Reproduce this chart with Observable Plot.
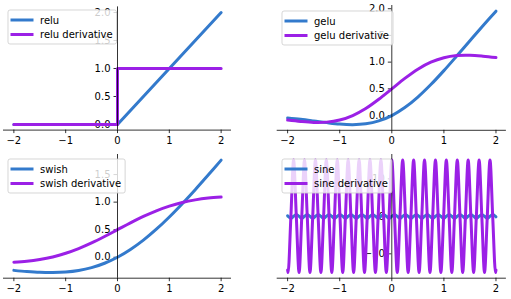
<!DOCTYPE html>
<html><head><meta charset="utf-8">
<script src="https://cdn.jsdelivr.net/npm/d3@7"></script>
<script src="https://cdn.jsdelivr.net/npm/@observablehq/plot@0.6"></script>
<style>
html,body{margin:0;padding:0;background:#fff;}
#root{position:relative;width:511px;height:299px;overflow:hidden;background:#fff;}
#root svg{position:absolute;}
</style></head><body><div id="root"></div>
<script>
const xTicks = [-2, -1, 0, 1, 2];
const reluX = [-2, 0, 2];
const reluY = [0, 0, 2];
const reluDX = [-2, 0, 0, 2];
const reluDY = [0, 0, 1, 1];
const smoothX = [-2, -1.75, -1.5, -1.25, -1, -0.75, -0.5, -0.25, 0, 0.25, 0.5, 0.75, 1, 1.25, 1.5, 1.75, 2];
const geluY = [-0.046, -0.070, -0.100, -0.132, -0.159, -0.170, -0.154, -0.100, 0, 0.150, 0.346, 0.580, 0.841, 1.118, 1.400, 1.680, 1.954];
const geluDY = [-0.085, -0.111, -0.128, -0.123, -0.083, 0.001, 0.132, 0.305, 0.5, 0.695, 0.868, 0.999, 1.083, 1.123, 1.128, 1.111, 1.085];
const swishY = [-0.238, -0.259, -0.274, -0.278, -0.269, -0.241, -0.189, -0.109, 0, 0.141, 0.311, 0.509, 0.731, 0.972, 1.226, 1.491, 1.762];
const swishDY = [-0.091, -0.073, -0.041, 0.006, 0.072, 0.157, 0.260, 0.376, 0.5, 0.624, 0.740, 0.843, 0.928, 0.994, 1.041, 1.073, 1.091];
const sineX = [-2, -1.990, -1.937, -1.885, -1.833, -1.780, -1.728, -1.676, -1.623, -1.571, -1.518, -1.466, -1.414, -1.361, -1.309, -1.257, -1.204, -1.152, -1.100, -1.047, -0.995, -0.942, -0.890, -0.838, -0.785, -0.733, -0.681, -0.628, -0.576, -0.524, -0.471, -0.419, -0.367, -0.314, -0.262, -0.209, -0.157, -0.105, -0.052, 0, 0.052, 0.105, 0.157, 0.209, 0.262, 0.314, 0.367, 0.419, 0.471, 0.524, 0.576, 0.628, 0.681, 0.733, 0.785, 0.838, 0.890, 0.942, 0.995, 1.047, 1.100, 1.152, 1.204, 1.257, 1.309, 1.361, 1.414, 1.466, 1.518, 1.571, 1.623, 1.676, 1.728, 1.780, 1.833, 1.885, 1.937, 1.990, 2];
const sineY = [0.15,
  0, -0.5, 0, 0.5, 0, -0.5, 0, 0.5, 0, -0.5, 0, 0.5, 0, -0.5, 0, 0.5, 0, -0.5, 0, 0.5,
  0, -0.5, 0, 0.5, 0, -0.5, 0, 0.5, 0, -0.5, 0, 0.5, 0, -0.5, 0, 0.5, 0, -0.5, 0, 0.5,
  0, -0.5, 0, 0.5, 0, -0.5, 0, 0.5, 0, -0.5, 0, 0.5, 0, -0.5, 0, 0.5, 0, -0.5, 0, 0.5,
  0, -0.5, 0, 0.5, 0, -0.5, 0, 0.5, 0, -0.5, 0, 0.5, 0, -0.5, 0, 0.5,
  0, -0.15];
const sineDY = [-14.3,
  -15, 0, 15, 0, -15, 0, 15, 0, -15, 0, 15, 0, -15, 0, 15, 0, -15, 0, 15, 0,
  -15, 0, 15, 0, -15, 0, 15, 0, -15, 0, 15, 0, -15, 0, 15, 0, -15, 0, 15, 0,
  -15, 0, 15, 0, -15, 0, 15, 0, -15, 0, 15, 0, -15, 0, 15, 0, -15, 0, 15, 0,
  -15, 0, 15, 0, -15, 0, 15, 0, -15, 0, 15, 0, -15, 0, 15, 0,
  -15, -14.3];
const yTicksUnit = [0, 0.5, 1, 1.5, 2];
const yTicksSwish = [0, 0.5, 1, 1.5];
const yTicksSine = [-10, 0, 10];

const BLUE = "#337acc";
const PURPLE = "#9b20e6";
const FONT = "DejaVu Sans";
const minus = d => (d < 0 ? "\u2212" + Math.abs(d) : String(d));
const fixed1 = d => (d < 0 ? "\u2212" + Math.abs(d).toFixed(1) : d.toFixed(1));

const panels = [
  {left: 0, top: 0, width: 255, height: 150, ml: 3, mr: 24, mt: 6.4, mb: 20.4, yDomain: [-0.1, 2.1],
   yTicks: yTicksUnit, fmt: fixed1, a: [reluX, reluY], b: [reluDX, reluDY], curve: "linear",
   labels: ["relu", "relu derivative"], legend: [8, 10]},
  {left: 255, top: 0, width: 256, height: 150, ml: 21.7, mr: 5.1, mt: 5, mb: 20.2, yDomain: [-0.276, 2.06],
   yTicks: yTicksUnit, fmt: fixed1, a: [smoothX, geluY], b: [smoothX, geluDY], curve: "catmull-rom",
   labels: ["gelu", "gelu derivative"], legend: [27, 11]},
  {left: 0, top: 150, width: 255, height: 149, ml: 3, mr: 24, mt: 4, mb: 21.3, yDomain: [-0.38, 1.864],
   yTicks: yTicksSwish, fmt: fixed1, a: [smoothX, swishY], b: [smoothX, swishDY], curve: "catmull-rom",
   labels: ["swish", "swish derivative"], legend: [8, 9]},
  {left: 255, top: 150, width: 256, height: 149, ml: 21.7, mr: 5.1, mt: 4, mb: 21.3, yDomain: [-16.5, 16.5],
   yTicks: yTicksSine, fmt: minus, a: [sineX, sineY], b: [sineX, sineDY], curve: "catmull-rom",
   labels: ["sine", "sine derivative"], legend: [27, 9]}
];

const root = document.getElementById("root");

for (const p of panels) {
  const svg = Plot.plot({
    width: p.width, height: p.height,
    marginLeft: p.ml, marginRight: p.mr, marginTop: p.mt, marginBottom: p.mb,
    x: {domain: [-2.2, 2.2]},
    y: {domain: p.yDomain, axis: null},
    style: {fontFamily: FONT, fontSize: "10px", background: "transparent", color: "#000", overflow: "visible"},
    marks: [
      Plot.axisX(xTicks, {tickSize: 3.5, tickPadding: 3.5, tickFormat: minus, stroke: "#000", strokeWidth: 0.8, fill: "#000", fontSize: 10, label: null}),
      Plot.ruleY(p.yTicks, {y: d => d, x1: 0, x2: 0, insetLeft: -3.5, stroke: "#000", strokeWidth: 0.8}),
      Plot.text(p.yTicks, {x: 0, y: d => d, text: p.fmt, dx: -7, textAnchor: "end", fill: "#000", fontSize: 10}),
      Plot.line(p.a[1], {x: p.a[0], y: p.a[1], stroke: BLUE, strokeWidth: 3, curve: p.curve, strokeLinejoin: "round"}),
      Plot.line(p.b[1], {x: p.b[0], y: p.b[1], stroke: PURPLE, strokeWidth: 3, curve: p.curve, strokeLinejoin: "round"}),
      Plot.ruleY([p.yDomain[0]], {stroke: "#000", strokeWidth: 0.8}),
      Plot.ruleX([0], {stroke: "#000", strokeWidth: 0.8})
    ]
  });
  svg.style.left = p.left + "px";
  svg.style.top = p.top + "px";
  root.appendChild(svg);

  // legend (drawn inside the axes, like the reference)
  const [lx, ly] = p.legend;
  const g = d3.select(svg).append("g").attr("font-family", FONT).attr("font-size", 10).attr("text-anchor", "start");
  const rect = g.append("rect");
  const colors = [BLUE, PURPLE];
  const texts = [];
  p.labels.forEach((lab, i) => {
    const cy = ly + 10 + i * 14.5;
    g.append("line").attr("x1", lx + 4).attr("x2", lx + 24).attr("y1", cy).attr("y2", cy)
      .attr("stroke", colors[i]).attr("stroke-width", 3).attr("stroke-linecap", "square");
    texts.push(g.append("text").attr("x", lx + 32).attr("y", cy).attr("dy", "0.35em")
      .attr("text-anchor", "start").attr("fill", "#000").text(lab));
  });
  const tw = d3.max(texts, t => t.node().getComputedTextLength());
  rect.attr("x", lx).attr("y", ly).attr("width", 36 + tw).attr("height", 34).attr("rx", 2)
    .attr("fill", "rgba(255,255,255,0.8)").attr("stroke", "rgba(204,204,204,0.8)").attr("stroke-width", 1);
}
</script></body></html>
